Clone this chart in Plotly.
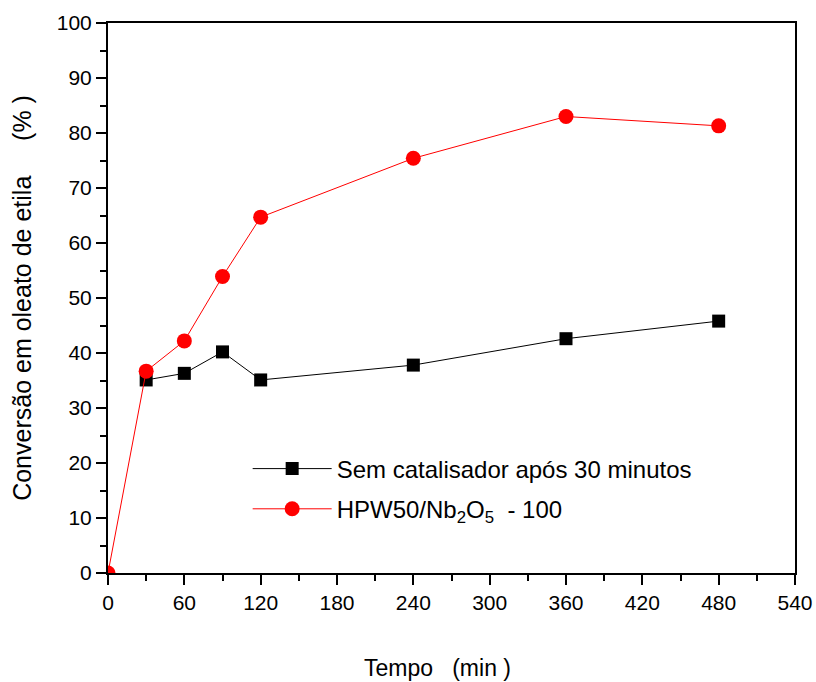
import plotly.graph_objects as go

t_black = [30, 60, 90, 120, 240, 360, 480]
y_black = [35.1, 36.3, 40.2, 35.1, 37.8, 42.6, 45.8]
t_red = [0, 30, 60, 90, 120, 240, 360, 480]
y_red = [0.0, 36.7, 42.2, 53.9, 64.7, 75.4, 83.0, 81.3]

name_black = "Sem catalisador após 30 minutos"
name_red = "HPW50/Nb<sub>2</sub>O<sub>5</sub>  - 100"
x_title = "Tempo\u00a0\u00a0\u00a0(min )"
y_title = "Conversão em oleato de etila\u00a0\u00a0\u00a0\u00a0\u00a0(% )"

fig = go.Figure()
fig.add_trace(go.Scatter(x=t_black, y=y_black, mode="lines+markers", name=name_black,
                         legendgroup="a",
                         line=dict(color="black", width=1),
                         marker=dict(symbol="square", size=13, color="black")))
fig.add_trace(go.Scatter(x=t_red, y=y_red, mode="lines+markers", name=name_red,
                         legendgroup="b",
                         line=dict(color="#ff0000", width=1),
                         marker=dict(symbol="circle", size=15, color="#ff0000")))

fam = "Liberation Sans, Arial, sans-serif"
tickfont = dict(family=fam, size=21, color="black")
axcommon = dict(showgrid=False, zeroline=False, showline=True, linecolor="black",
                linewidth=2, mirror=True, ticks="outside", ticklen=10, tickwidth=2,
                tickcolor="black", tickfont=tickfont, automargin=False)

fig.update_layout(
    width=816, height=682,
    margin=dict(l=108, r=21, t=23, b=109),
    paper_bgcolor="white", plot_bgcolor="white",
    font=tickfont,
    showlegend=True,
    legend=dict(x=0.2033, y=0.23, xanchor="left", yanchor="top",
                bgcolor="rgba(0,0,0,0)", font=dict(size=24, family=fam, color="black"),
                itemwidth=79, tracegroupgap=6),
    xaxis=dict(range=[0, 540], tickmode="linear", tick0=0, dtick=60,
               minor=dict(ticks="outside", ticklen=6, tickwidth=2, dtick=30, tickcolor="black"),
               **axcommon),
    yaxis=dict(range=[0, 100], tickmode="linear", tick0=0, dtick=10,
               minor=dict(ticks="outside", ticklen=6, tickwidth=2, dtick=5, tickcolor="black"),
               title=dict(text=y_title, font=dict(family=fam, size=25, color="black"), standoff=18),
               **axcommon),
    annotations=[dict(text=x_title, xref="paper", yref="paper", x=0.48, y=-0.1727,
                      xanchor="center", yanchor="middle", showarrow=False,
                      font=dict(family=fam, size=23, color="black"))],
)

fig.write_html("out.html")
